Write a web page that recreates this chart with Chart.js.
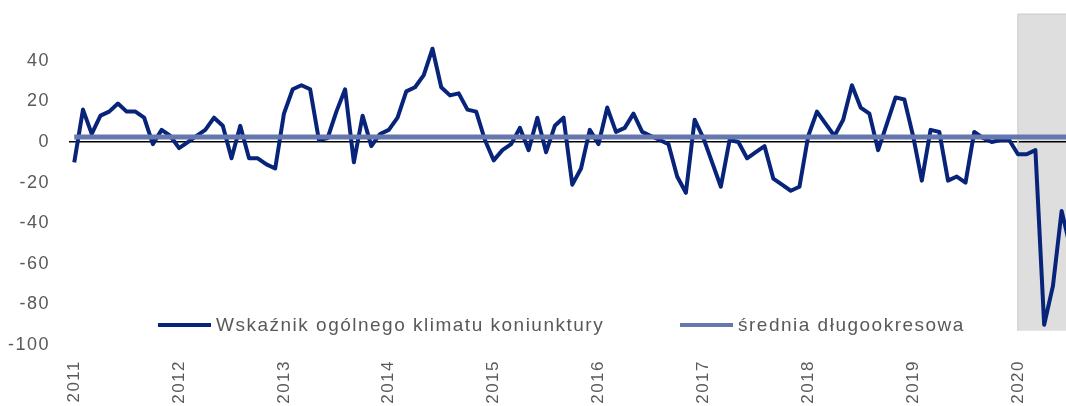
<!DOCTYPE html>
<html>
<head>
<meta charset="utf-8">
<script src="https://cdn.jsdelivr.net/npm/chart.js@4.4.1/dist/chart.umd.min.js"></script>
<style>
body{margin:0;background:#fff;}
#wrap{position:relative;width:1066px;height:406px;overflow:hidden;}
.leg{position:absolute;top:313px;height:24px;font-family:"Liberation Sans",Arial,sans-serif;font-size:19px;letter-spacing:1.5px;color:#595959;display:flex;align-items:center;white-space:nowrap;}
.leg .sw{display:inline-block;width:53px;height:4px;margin-right:5px;}
</style>
</head>
<body>
<div id="wrap">
<canvas id="c"></canvas>
<div class="leg" style="left:158px"><span class="sw" style="background:#08247a"></span>Wskaźnik ogólnego klimatu koniunktury</div>
<div class="leg" style="left:680px"><span class="sw" style="background:#6577ad"></span>średnia długookresowa</div>
</div>
<script>
// monthly values, Jan 2011 .. Jul 2020
const climate = [
  -10, 16, 4, 13, 15, 19, 15, 15, 12, -1, 6, 3,
  -3, 0, 3, 6, 12, 8, -8, 8, -8, -8, -11, -13,
  14, 26, 28, 26, 1, 2, 15, 26, -10, 13, -2, 4,
  6, 12, 25, 27, 33, 46, 27, 23, 24, 16, 15, 1,
  -9, -4, -1, 7, -4, 12, -5, 8, 12, -21, -13, 6,
  -1, 17, 5, 7, 14, 5, 3, 1, -1, -17, -25, 11,
  2, -10, -22, 1, 0, -8, -5, -2, -18, -21, -24, -22,
  3, 15, 9, 3, 11, 28, 17, 14, -4, 9, 22, 21,
  3, -19, 6, 5, -19, -17, -20, 5, 2, 0, 1, 1,
  -6, -6, -4, -90, -71, -34, -52
];
const years = ['2011','2012','2013','2014','2015','2016','2017','2018','2019','2020'];
const meanLevel = [2.5, 2.5];
const meanMonths = [0, 120];
const shadeMonths = [108, 120];
const shadeRange = [-93, 63];
const yTicks = [-100, -80, -60, -40, -20, 0, 20, 40];

const climatePts = climate.map((v, i) => ({x: i, y: v}));
const meanPts = meanMonths.map((m, k) => ({x: m, y: meanLevel[k]}));
const shadePts = [
  {x: shadeMonths[0], y: shadeRange[0]},
  {x: shadeMonths[0], y: shadeRange[1]},
  {x: shadeMonths[1], y: shadeRange[1]},
  {x: shadeMonths[1], y: shadeRange[0]}
];

Chart.defaults.font.family = '"Liberation Sans", Arial, sans-serif';
Chart.defaults.color = '#595959';

new Chart(document.getElementById('c'), {
  type: 'line',
  data: {
    datasets: [
      {label: 'średnia długookresowa', data: meanPts, borderColor: '#6577ad', borderWidth: 5, order: 0},
      {label: 'Wskaźnik ogólnego klimatu koniunktury', data: climatePts, borderColor: '#08247a', borderWidth: 4, order: 1},
      {label: 'shade', data: shadePts, borderColor: '#d2d2d2', borderWidth: 1.5, backgroundColor: '#dedede', fill: {value: shadeRange[0]}, order: 2}
    ]
  },
  options: {
    responsive: true,
    maintainAspectRatio: false,
    animation: false,
    layout: {padding: 0},
    elements: {point: {radius: 0}, line: {tension: 0, borderJoinStyle: 'round'}},
    plugins: {
      legend: {display: false},
      tooltip: {enabled: false},
      filler: {drawTime: 'beforeDraw'}
    },
    scales: {
      x: {
        type: 'linear',
        min: -0.6,
        max: 113.5,
        grid: {display: false},
        border: {display: false},
        afterBuildTicks: s => { s.ticks = years.map((y, k) => ({value: k * 12})); },
        afterFit: s => { s.height = 61; s.paddingLeft = 0; s.paddingRight = 0; },
        ticks: {
          autoSkip: false, minRotation: 90, maxRotation: 90, padding: 7,
          font: {size: 17},
          callback: (v) => years[Math.round(v / 12)]
        }
      },
      y: {
        min: -100,
        max: 70,
        grid: {
          drawTicks: false,
          color: c => c.tick && c.tick.value === 0 ? '#000000' : 'rgba(0,0,0,0)',
          lineWidth: 1.5
        },
        border: {display: false},
        afterBuildTicks: s => { s.ticks = yTicks.map(v => ({value: v})); },
        afterFit: s => { s.width = 69; s.paddingTop = 0; s.paddingBottom = 0; },
        ticks: {padding: 19, font: {size: 18}}
      }
    }
  },
  plugins: [{
    id: 'spacing',
    beforeDraw: ch => { ch.ctx.letterSpacing = '1.5px'; }
  }]
});
</script>
</body>
</html>
